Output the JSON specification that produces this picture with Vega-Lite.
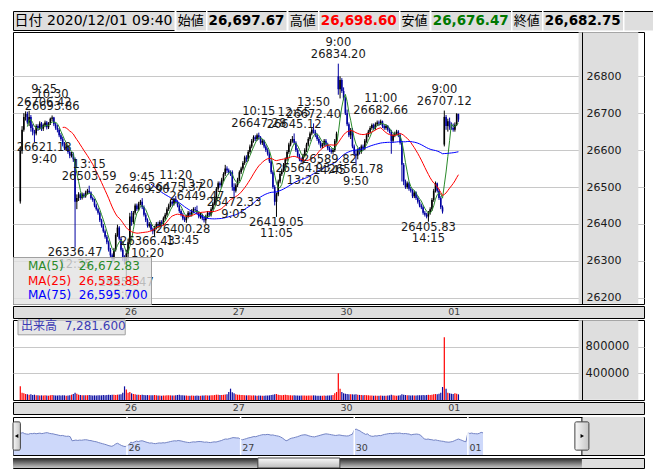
{
"$schema":"https://vega.github.io/schema/vega-lite/v6.json",
"padding":{"left":10,"top":10,"right":12,"bottom":11},
"background":"white",
"spacing":0,
"bounds":"full",
"config":{"view":{"stroke":null}},
"datasets":{
"days":[{"i":60,"d":"26"},{"i":120,"d":"27"},{"i":180,"d":"30"},{"i":240,"d":"01"}],
"notes":[
{"i":13.5,"p":26706.42,"t":"9:25","k":"H"},
{"i":18,"p":26693.86,"t":"10:30","k":"H"},
{"i":13.5,"p":26621.18,"t":"9:40","k":"L"},
{"i":39,"p":26503.59,"t":"13:15","k":"H"},
{"i":31,"p":26336.47,"t":"12:35","k":"L"},
{"i":60,"p":26255.47,"t":"9:00","k":"L"},
{"i":69,"p":26469.90,"t":"9:45","k":"H"},
{"i":88,"p":26475.37,"t":"11:20","k":"H"},
{"i":100,"p":26449.47,"t":"13:20","k":"H"},
{"i":72,"p":26366.43,"t":"10:20","k":"L"},
{"i":92,"p":26400.28,"t":"13:45","k":"L"},
{"i":121,"p":26472.33,"t":"9:05","k":"L"},
{"i":145,"p":26419.05,"t":"11:05","k":"L"},
{"i":135,"p":26647.28,"t":"10:15","k":"H"},
{"i":155,"p":26645.12,"t":"12:55","k":"H"},
{"i":166,"p":26672.40,"t":"13:50","k":"H"},
{"i":160,"p":26564.93,"t":"13:20","k":"L"},
{"i":175,"p":26589.82,"t":"14:45","k":"L"},
{"i":180,"p":26834.20,"t":"9:00","k":"H"},
{"i":190,"p":26561.78,"t":"9:50","k":"L"},
{"i":204,"p":26682.66,"t":"11:00","k":"H"},
{"i":231,"p":26405.83,"t":"14:15","k":"L"},
{"i":240,"p":26707.12,"t":"9:00","k":"H"}
],
"bars":[
{"i":0,"o":26461,"h":26610,"l":26455,"c":26600,"v":205000},
{"i":1,"o":26600,"h":26665,"l":26590,"c":26655,"v":110000},
{"i":2,"o":26655,"h":26700,"l":26650,"c":26690,"v":100000},
{"i":3,"o":26690,"h":26705,"l":26680,"c":26698,"v":90000},
{"i":4,"o":26698,"h":26704,"l":26670,"c":26675,"v":85000},
{"i":5,"o":26675,"h":26706.42,"l":26665,"c":26690,"v":80000},
{"i":6,"o":26690,"h":26695,"l":26650,"c":26660,"v":85000},
{"i":7,"o":26660,"h":26670,"l":26640,"c":26650,"v":75000},
{"i":8,"o":26650,"h":26655,"l":26621.18,"c":26645,"v":80000},
{"i":9,"o":26645,"h":26670,"l":26640,"c":26665,"v":70000},
{"i":10,"o":26665,"h":26670,"l":26652,"c":26660,"v":72000},
{"i":11,"o":26660,"h":26678,"l":26655,"c":26672,"v":68000},
{"i":12,"o":26672,"h":26676,"l":26652,"c":26658,"v":70000},
{"i":13,"o":26658,"h":26672,"l":26652,"c":26668,"v":66000},
{"i":14,"o":26668,"h":26680,"l":26662,"c":26675,"v":70000},
{"i":15,"o":26675,"h":26679,"l":26656,"c":26662,"v":68000},
{"i":16,"o":26662,"h":26676,"l":26657,"c":26672,"v":65000},
{"i":17,"o":26672,"h":26688,"l":26668,"c":26685,"v":72000},
{"i":18,"o":26685,"h":26693.86,"l":26678,"c":26688,"v":75000},
{"i":19,"o":26688,"h":26690,"l":26665,"c":26670,"v":70000},
{"i":20,"o":26670,"h":26675,"l":26655,"c":26660,"v":68000},
{"i":21,"o":26660,"h":26668,"l":26648,"c":26655,"v":66000},
{"i":22,"o":26655,"h":26660,"l":26635,"c":26640,"v":70000},
{"i":23,"o":26640,"h":26646,"l":26625,"c":26630,"v":68000},
{"i":24,"o":26630,"h":26636,"l":26610,"c":26615,"v":72000},
{"i":25,"o":26615,"h":26622,"l":26600,"c":26605,"v":70000},
{"i":26,"o":26605,"h":26616,"l":26598,"c":26610,"v":65000},
{"i":27,"o":26610,"h":26614,"l":26590,"c":26595,"v":68000},
{"i":28,"o":26595,"h":26600,"l":26578,"c":26585,"v":70000},
{"i":29,"o":26585,"h":26595,"l":26580,"c":26590,"v":80000},
{"i":30,"o":26590,"h":26594,"l":26568,"c":26575,"v":90000},
{"i":31,"o":26575,"h":26580,"l":26336.47,"c":26460,"v":110000},
{"i":32,"o":26460,"h":26480,"l":26440,"c":26470,"v":95000},
{"i":33,"o":26470,"h":26486,"l":26462,"c":26480,"v":80000},
{"i":34,"o":26480,"h":26484,"l":26465,"c":26470,"v":75000},
{"i":35,"o":26470,"h":26485,"l":26466,"c":26480,"v":72000},
{"i":36,"o":26480,"h":26484,"l":26470,"c":26475,"v":70000},
{"i":37,"o":26475,"h":26490,"l":26471,"c":26485,"v":70000},
{"i":38,"o":26485,"h":26495,"l":26480,"c":26490,"v":72000},
{"i":39,"o":26490,"h":26503.59,"l":26482,"c":26485,"v":75000},
{"i":40,"o":26485,"h":26488,"l":26466,"c":26470,"v":70000},
{"i":41,"o":26470,"h":26474,"l":26460,"c":26465,"v":68000},
{"i":42,"o":26465,"h":26468,"l":26445,"c":26450,"v":70000},
{"i":43,"o":26450,"h":26455,"l":26436,"c":26440,"v":68000},
{"i":44,"o":26440,"h":26444,"l":26425,"c":26430,"v":70000},
{"i":45,"o":26430,"h":26434,"l":26405,"c":26410,"v":72000},
{"i":46,"o":26410,"h":26414,"l":26390,"c":26395,"v":70000},
{"i":47,"o":26395,"h":26400,"l":26376,"c":26380,"v":74000},
{"i":48,"o":26380,"h":26385,"l":26360,"c":26365,"v":72000},
{"i":49,"o":26365,"h":26370,"l":26345,"c":26350,"v":75000},
{"i":50,"o":26350,"h":26355,"l":26325,"c":26330,"v":78000},
{"i":51,"o":26330,"h":26335,"l":26310,"c":26315,"v":76000},
{"i":52,"o":26315,"h":26320,"l":26298,"c":26305,"v":80000},
{"i":53,"o":26305,"h":26335,"l":26300,"c":26330,"v":78000},
{"i":54,"o":26330,"h":26375,"l":26325,"c":26370,"v":76000},
{"i":55,"o":26370,"h":26398,"l":26365,"c":26390,"v":80000},
{"i":56,"o":26390,"h":26394,"l":26355,"c":26360,"v":82000},
{"i":57,"o":26360,"h":26365,"l":26325,"c":26330,"v":85000},
{"i":58,"o":26330,"h":26335,"l":26300,"c":26310,"v":110000},
{"i":59,"o":26310,"h":26315,"l":26290,"c":26296.86,"v":205000},
{"i":60,"o":26297,"h":26330,"l":26255.47,"c":26320,"v":158000},
{"i":61,"o":26320,"h":26360,"l":26300,"c":26350,"v":110000},
{"i":62,"o":26350,"h":26430,"l":26345,"c":26420,"v":120000},
{"i":63,"o":26420,"h":26435,"l":26395,"c":26405,"v":100000},
{"i":64,"o":26405,"h":26435,"l":26400,"c":26430,"v":90000},
{"i":65,"o":26430,"h":26455,"l":26425,"c":26450,"v":85000},
{"i":66,"o":26450,"h":26455,"l":26435,"c":26440,"v":80000},
{"i":67,"o":26440,"h":26460,"l":26436,"c":26455,"v":78000},
{"i":68,"o":26455,"h":26465,"l":26450,"c":26460,"v":75000},
{"i":69,"o":26460,"h":26469.90,"l":26440,"c":26445,"v":78000},
{"i":70,"o":26445,"h":26450,"l":26420,"c":26425,"v":75000},
{"i":71,"o":26425,"h":26430,"l":26405,"c":26410,"v":72000},
{"i":72,"o":26410,"h":26415,"l":26390,"c":26395,"v":74000},
{"i":73,"o":26395,"h":26405,"l":26390,"c":26400,"v":70000},
{"i":74,"o":26400,"h":26405,"l":26380,"c":26385,"v":72000},
{"i":75,"o":26385,"h":26390,"l":26372,"c":26380,"v":70000},
{"i":76,"o":26380,"h":26395,"l":26366.43,"c":26390,"v":75000},
{"i":77,"o":26390,"h":26405,"l":26385,"c":26400,"v":70000},
{"i":78,"o":26400,"h":26406,"l":26388,"c":26395,"v":68000},
{"i":79,"o":26395,"h":26410,"l":26390,"c":26405,"v":66000},
{"i":80,"o":26405,"h":26410,"l":26395,"c":26400,"v":65000},
{"i":81,"o":26400,"h":26420,"l":26396,"c":26415,"v":68000},
{"i":82,"o":26415,"h":26430,"l":26410,"c":26425,"v":66000},
{"i":83,"o":26425,"h":26445,"l":26420,"c":26440,"v":70000},
{"i":84,"o":26440,"h":26455,"l":26435,"c":26450,"v":72000},
{"i":85,"o":26450,"h":26465,"l":26445,"c":26460,"v":70000},
{"i":86,"o":26460,"h":26464,"l":26448,"c":26455,"v":66000},
{"i":87,"o":26455,"h":26470,"l":26450,"c":26468,"v":68000},
{"i":88,"o":26468,"h":26475.37,"l":26455,"c":26460,"v":70000},
{"i":89,"o":26460,"h":26464,"l":26445,"c":26450,"v":75000},
{"i":90,"o":26450,"h":26455,"l":26430,"c":26435,"v":80000},
{"i":91,"o":26435,"h":26440,"l":26420,"c":26425,"v":72000},
{"i":92,"o":26425,"h":26430,"l":26410,"c":26415,"v":70000},
{"i":93,"o":26415,"h":26420,"l":26405,"c":26410,"v":68000},
{"i":94,"o":26410,"h":26425,"l":26403,"c":26420,"v":66000},
{"i":95,"o":26420,"h":26435,"l":26415,"c":26430,"v":65000},
{"i":96,"o":26430,"h":26434,"l":26420,"c":26425,"v":64000},
{"i":97,"o":26425,"h":26440,"l":26420,"c":26435,"v":66000},
{"i":98,"o":26435,"h":26445,"l":26430,"c":26440,"v":65000},
{"i":99,"o":26440,"h":26446,"l":26432,"c":26438,"v":64000},
{"i":100,"o":26438,"h":26449.47,"l":26426,"c":26430,"v":66000},
{"i":101,"o":26430,"h":26434,"l":26415,"c":26420,"v":65000},
{"i":102,"o":26420,"h":26430,"l":26414,"c":26425,"v":64000},
{"i":103,"o":26425,"h":26428,"l":26410,"c":26415,"v":66000},
{"i":104,"o":26415,"h":26420,"l":26404,"c":26410,"v":68000},
{"i":105,"o":26410,"h":26425,"l":26400.28,"c":26420,"v":70000},
{"i":106,"o":26420,"h":26435,"l":26415,"c":26430,"v":68000},
{"i":107,"o":26430,"h":26434,"l":26420,"c":26425,"v":66000},
{"i":108,"o":26425,"h":26445,"l":26420,"c":26440,"v":70000},
{"i":109,"o":26440,"h":26460,"l":26436,"c":26455,"v":72000},
{"i":110,"o":26455,"h":26475,"l":26450,"c":26470,"v":75000},
{"i":111,"o":26470,"h":26500,"l":26465,"c":26495,"v":80000},
{"i":112,"o":26495,"h":26515,"l":26490,"c":26510,"v":78000},
{"i":113,"o":26510,"h":26515,"l":26498,"c":26505,"v":75000},
{"i":114,"o":26505,"h":26525,"l":26500,"c":26520,"v":76000},
{"i":115,"o":26520,"h":26540,"l":26515,"c":26535,"v":78000},
{"i":116,"o":26535,"h":26560,"l":26530,"c":26550,"v":82000},
{"i":117,"o":26550,"h":26556,"l":26538,"c":26545,"v":85000},
{"i":118,"o":26545,"h":26550,"l":26534,"c":26540,"v":120000},
{"i":119,"o":26540,"h":26545,"l":26530,"c":26537.31,"v":170000},
{"i":120,"o":26540,"h":26545,"l":26490,"c":26500,"v":115000},
{"i":121,"o":26500,"h":26510,"l":26472.33,"c":26490,"v":100000},
{"i":122,"o":26490,"h":26510,"l":26485,"c":26505,"v":85000},
{"i":123,"o":26505,"h":26525,"l":26500,"c":26520,"v":80000},
{"i":124,"o":26520,"h":26545,"l":26515,"c":26540,"v":78000},
{"i":125,"o":26540,"h":26555,"l":26535,"c":26550,"v":75000},
{"i":126,"o":26550,"h":26570,"l":26545,"c":26565,"v":74000},
{"i":127,"o":26565,"h":26585,"l":26560,"c":26580,"v":72000},
{"i":128,"o":26580,"h":26586,"l":26568,"c":26575,"v":70000},
{"i":129,"o":26575,"h":26600,"l":26570,"c":26595,"v":72000},
{"i":130,"o":26595,"h":26615,"l":26590,"c":26610,"v":70000},
{"i":131,"o":26610,"h":26630,"l":26605,"c":26625,"v":68000},
{"i":132,"o":26625,"h":26640,"l":26620,"c":26635,"v":70000},
{"i":133,"o":26635,"h":26640,"l":26624,"c":26630,"v":66000},
{"i":134,"o":26630,"h":26645,"l":26625,"c":26640,"v":65000},
{"i":135,"o":26640,"h":26647.28,"l":26628,"c":26635,"v":68000},
{"i":136,"o":26635,"h":26638,"l":26615,"c":26620,"v":66000},
{"i":137,"o":26620,"h":26630,"l":26614,"c":26625,"v":64000},
{"i":138,"o":26625,"h":26628,"l":26605,"c":26610,"v":65000},
{"i":139,"o":26610,"h":26615,"l":26595,"c":26600,"v":66000},
{"i":140,"o":26600,"h":26605,"l":26585,"c":26590,"v":68000},
{"i":141,"o":26590,"h":26595,"l":26565,"c":26570,"v":70000},
{"i":142,"o":26570,"h":26575,"l":26535,"c":26540,"v":75000},
{"i":143,"o":26540,"h":26545,"l":26495,"c":26500,"v":80000},
{"i":144,"o":26500,"h":26505,"l":26450,"c":26460,"v":85000},
{"i":145,"o":26460,"h":26485,"l":26419.05,"c":26480,"v":90000},
{"i":146,"o":26480,"h":26520,"l":26475,"c":26515,"v":80000},
{"i":147,"o":26515,"h":26540,"l":26510,"c":26535,"v":75000},
{"i":148,"o":26535,"h":26550,"l":26530,"c":26545,"v":72000},
{"i":149,"o":26545,"h":26565,"l":26540,"c":26560,"v":75000},
{"i":150,"o":26560,"h":26580,"l":26555,"c":26575,"v":80000},
{"i":151,"o":26575,"h":26600,"l":26570,"c":26595,"v":74000},
{"i":152,"o":26595,"h":26620,"l":26590,"c":26615,"v":72000},
{"i":153,"o":26615,"h":26630,"l":26610,"c":26625,"v":70000},
{"i":154,"o":26625,"h":26638,"l":26620,"c":26630,"v":68000},
{"i":155,"o":26630,"h":26645.12,"l":26615,"c":26620,"v":70000},
{"i":156,"o":26620,"h":26624,"l":26595,"c":26600,"v":68000},
{"i":157,"o":26600,"h":26605,"l":26580,"c":26585,"v":66000},
{"i":158,"o":26585,"h":26590,"l":26570,"c":26575,"v":65000},
{"i":159,"o":26575,"h":26580,"l":26566,"c":26570,"v":66000},
{"i":160,"o":26570,"h":26590,"l":26564.93,"c":26585,"v":68000},
{"i":161,"o":26585,"h":26605,"l":26580,"c":26600,"v":66000},
{"i":162,"o":26600,"h":26620,"l":26595,"c":26615,"v":65000},
{"i":163,"o":26615,"h":26635,"l":26610,"c":26630,"v":66000},
{"i":164,"o":26630,"h":26650,"l":26625,"c":26645,"v":68000},
{"i":165,"o":26645,"h":26660,"l":26640,"c":26655,"v":66000},
{"i":166,"o":26655,"h":26672.40,"l":26645,"c":26650,"v":70000},
{"i":167,"o":26650,"h":26655,"l":26635,"c":26640,"v":66000},
{"i":168,"o":26640,"h":26645,"l":26625,"c":26630,"v":65000},
{"i":169,"o":26630,"h":26635,"l":26615,"c":26620,"v":64000},
{"i":170,"o":26620,"h":26625,"l":26605,"c":26610,"v":65000},
{"i":171,"o":26610,"h":26620,"l":26605,"c":26615,"v":64000},
{"i":172,"o":26615,"h":26630,"l":26610,"c":26625,"v":66000},
{"i":173,"o":26625,"h":26630,"l":26610,"c":26615,"v":65000},
{"i":174,"o":26615,"h":26620,"l":26600,"c":26605,"v":66000},
{"i":175,"o":26605,"h":26610,"l":26595,"c":26600,"v":68000},
{"i":176,"o":26600,"h":26605,"l":26590,"c":26595,"v":70000},
{"i":177,"o":26595,"h":26605,"l":26589.82,"c":26600,"v":75000},
{"i":178,"o":26600,"h":26630,"l":26595,"c":26625,"v":100000},
{"i":179,"o":26625,"h":26650,"l":26620,"c":26644.71,"v":120000},
{"i":180,"o":26800,"h":26834.20,"l":26750,"c":26765,"v":400000},
{"i":181,"o":26765,"h":26800,"l":26740,"c":26790,"v":170000},
{"i":182,"o":26790,"h":26795,"l":26755,"c":26760,"v":120000},
{"i":183,"o":26760,"h":26770,"l":26735,"c":26740,"v":100000},
{"i":184,"o":26740,"h":26745,"l":26695,"c":26700,"v":95000},
{"i":185,"o":26700,"h":26710,"l":26665,"c":26670,"v":90000},
{"i":186,"o":26670,"h":26675,"l":26635,"c":26640,"v":88000},
{"i":187,"o":26640,"h":26660,"l":26630,"c":26655,"v":85000},
{"i":188,"o":26655,"h":26660,"l":26605,"c":26610,"v":85000},
{"i":189,"o":26610,"h":26615,"l":26585,"c":26590,"v":82000},
{"i":190,"o":26590,"h":26600,"l":26561.78,"c":26585,"v":85000},
{"i":191,"o":26585,"h":26605,"l":26575,"c":26600,"v":80000},
{"i":192,"o":26600,"h":26608,"l":26588,"c":26595,"v":76000},
{"i":193,"o":26595,"h":26615,"l":26590,"c":26610,"v":74000},
{"i":194,"o":26610,"h":26615,"l":26598,"c":26605,"v":72000},
{"i":195,"o":26605,"h":26630,"l":26600,"c":26625,"v":74000},
{"i":196,"o":26625,"h":26645,"l":26620,"c":26640,"v":72000},
{"i":197,"o":26640,"h":26655,"l":26635,"c":26650,"v":70000},
{"i":198,"o":26650,"h":26665,"l":26645,"c":26660,"v":68000},
{"i":199,"o":26660,"h":26672,"l":26655,"c":26668,"v":66000},
{"i":200,"o":26668,"h":26672,"l":26655,"c":26660,"v":65000},
{"i":201,"o":26660,"h":26675,"l":26655,"c":26670,"v":66000},
{"i":202,"o":26670,"h":26680,"l":26665,"c":26675,"v":64000},
{"i":203,"o":26675,"h":26680,"l":26665,"c":26672,"v":65000},
{"i":204,"o":26672,"h":26682.66,"l":26668,"c":26678,"v":66000},
{"i":205,"o":26678,"h":26680,"l":26660,"c":26665,"v":64000},
{"i":206,"o":26665,"h":26670,"l":26655,"c":26660,"v":65000},
{"i":207,"o":26660,"h":26670,"l":26655,"c":26665,"v":64000},
{"i":208,"o":26665,"h":26668,"l":26650,"c":26655,"v":66000},
{"i":209,"o":26655,"h":26660,"l":26645,"c":26650,"v":70000},
{"i":210,"o":26650,"h":26655,"l":26590,"c":26625,"v":78000},
{"i":211,"o":26625,"h":26645,"l":26620,"c":26640,"v":70000},
{"i":212,"o":26640,"h":26650,"l":26635,"c":26645,"v":66000},
{"i":213,"o":26645,"h":26655,"l":26640,"c":26650,"v":65000},
{"i":214,"o":26650,"h":26654,"l":26635,"c":26640,"v":66000},
{"i":215,"o":26640,"h":26645,"l":26615,"c":26620,"v":70000},
{"i":216,"o":26620,"h":26625,"l":26515,"c":26560,"v":85000},
{"i":217,"o":26560,"h":26565,"l":26505,"c":26515,"v":80000},
{"i":218,"o":26515,"h":26520,"l":26495,"c":26500,"v":75000},
{"i":219,"o":26500,"h":26515,"l":26495,"c":26510,"v":72000},
{"i":220,"o":26510,"h":26514,"l":26490,"c":26495,"v":70000},
{"i":221,"o":26495,"h":26500,"l":26485,"c":26490,"v":68000},
{"i":222,"o":26490,"h":26494,"l":26470,"c":26475,"v":70000},
{"i":223,"o":26475,"h":26490,"l":26470,"c":26485,"v":66000},
{"i":224,"o":26485,"h":26488,"l":26465,"c":26470,"v":68000},
{"i":225,"o":26470,"h":26475,"l":26455,"c":26460,"v":70000},
{"i":226,"o":26460,"h":26465,"l":26445,"c":26450,"v":72000},
{"i":227,"o":26450,"h":26455,"l":26440,"c":26445,"v":70000},
{"i":228,"o":26445,"h":26450,"l":26425,"c":26430,"v":74000},
{"i":229,"o":26430,"h":26435,"l":26420,"c":26425,"v":72000},
{"i":230,"o":26425,"h":26430,"l":26415,"c":26420,"v":75000},
{"i":231,"o":26420,"h":26435,"l":26405.83,"c":26430,"v":78000},
{"i":232,"o":26430,"h":26445,"l":26425,"c":26440,"v":76000},
{"i":233,"o":26440,"h":26470,"l":26435,"c":26465,"v":80000},
{"i":234,"o":26465,"h":26495,"l":26460,"c":26490,"v":85000},
{"i":235,"o":26490,"h":26515,"l":26485,"c":26510,"v":90000},
{"i":236,"o":26510,"h":26512,"l":26485,"c":26490,"v":88000},
{"i":237,"o":26490,"h":26495,"l":26465,"c":26470,"v":92000},
{"i":238,"o":26470,"h":26475,"l":26440,"c":26445,"v":110000},
{"i":239,"o":26445,"h":26450,"l":26428,"c":26433.62,"v":195000},
{"i":240,"o":26615,"h":26707.12,"l":26610,"c":26690,"v":940000},
{"i":241,"o":26690,"h":26695,"l":26655,"c":26665,"v":170000},
{"i":242,"o":26665,"h":26685,"l":26650,"c":26678,"v":110000},
{"i":243,"o":26678,"h":26688,"l":26655,"c":26662,"v":100000},
{"i":244,"o":26662,"h":26675,"l":26655,"c":26660,"v":95000},
{"i":245,"o":26660,"h":26672,"l":26650,"c":26655,"v":90000},
{"i":246,"o":26655,"h":26675,"l":26650,"c":26668.73,"v":100000},
{"i":247,"o":26668.73,"h":26700,"l":26665,"c":26697.67,"v":95000},
{"i":248,"o":26697.67,"h":26698.60,"l":26676.47,"c":26682.75,"v":85000}
]
},
"vconcat":[
{"hconcat":[
{"width":161,"height":19,"data":{"values":[{"t":"日付 2020/12/01 09:40"}]},"mark":{"type":"text","font":"DejaVu Sans, Noto Sans CJK JP","fontSize":14,"color":"#000"},"encoding":{"text":{"field":"t"}},"view":{"fill":"#dedede","stroke":"#000","strokeDash":[161,19,180,0.001]}},
{"width":29.5,"height":19,"data":{"values":[{"t":"始値"}]},"mark":{"type":"text","font":"Noto Sans CJK JP","fontSize":13,"color":"#000"},"encoding":{"text":{"field":"t"}},"view":{"fill":"#dedede","stroke":"#000","strokeDash":[29.5,67.5]}},
{"width":79,"height":19,"data":{"values":[{"t":"26,697.67"}]},"mark":{"type":"text","font":"DejaVu Sans","fontSize":13.5,"fontWeight":"bold","color":"#000"},"encoding":{"text":{"field":"t"}},"view":{"fill":"#dedede","stroke":"#000","strokeDash":[79,117]}},
{"width":29.5,"height":19,"data":{"values":[{"t":"高値"}]},"mark":{"type":"text","font":"Noto Sans CJK JP","fontSize":13,"color":"#000"},"encoding":{"text":{"field":"t"}},"view":{"fill":"#dedede","stroke":"#000","strokeDash":[29.5,67.5]}},
{"width":79.5,"height":19,"data":{"values":[{"t":"26,698.60"}]},"mark":{"type":"text","font":"DejaVu Sans","fontSize":13.5,"fontWeight":"bold","color":"#ff0000"},"encoding":{"text":{"field":"t"}},"view":{"fill":"#dedede","stroke":"#000","strokeDash":[79.5,117.5]}},
{"width":29,"height":19,"data":{"values":[{"t":"安値"}]},"mark":{"type":"text","font":"Noto Sans CJK JP","fontSize":13,"color":"#000"},"encoding":{"text":{"field":"t"}},"view":{"fill":"#dedede","stroke":"#000","strokeDash":[29,67]}},
{"width":79.5,"height":19,"data":{"values":[{"t":"26,676.47"}]},"mark":{"type":"text","font":"DejaVu Sans","fontSize":13.5,"fontWeight":"bold","color":"#007800"},"encoding":{"text":{"field":"t"}},"view":{"fill":"#dedede","stroke":"#000","strokeDash":[79.5,117.5]}},
{"width":29.5,"height":19,"data":{"values":[{"t":"終値"}]},"mark":{"type":"text","font":"Noto Sans CJK JP","fontSize":13,"color":"#000"},"encoding":{"text":{"field":"t"}},"view":{"fill":"#dedede","stroke":"#000","strokeDash":[29.5,67.5]}},
{"width":79.5,"height":19,"data":{"values":[{"t":"26,682.75"}]},"mark":{"type":"text","font":"DejaVu Sans","fontSize":13.5,"fontWeight":"bold","color":"#000"},"encoding":{"text":{"field":"t"}},"view":{"fill":"#dedede","stroke":"#000","strokeDash":[79.5,117.5]}},
{"width":35,"height":19,"data":{"values":[{"t":""}]},"mark":{"type":"text"},"encoding":{"text":{"field":"t"}},"view":{"fill":"#dedede","stroke":"#000","strokeDash":[54,54]}}
],"spacing":0,"bounds":"full"},
{"width":631,"height":272,
"view":{"fill":"#ffffff","stroke":"#000"},
"resolve":{"axis":{"y":"independent"}},
"layer":[
{"data":{"name":"bars"},"mark":{"type":"rule","strokeWidth":1},
"encoding":{
"x":{"field":"i","type":"quantitative","scale":{"domain":[-1.3,350.2],"nice":false,"zero":false},"axis":{"values":[60,120,180,240],"grid":true,"gridColor":"#c8c8c8","labels":false,"ticks":false,"domain":false,"title":null}},
"y":{"field":"l","type":"quantitative","scale":{"domain":[26183,26920],"nice":false,"zero":false},"axis":{"orient":"left","values":[26200,26300,26400,26500,26600,26700,26800],"grid":true,"gridColor":"#c8c8c8","labels":false,"ticks":false,"domain":false,"title":null,"zindex":0}},
"y2":{"field":"h"},
"color":{"condition":{"test":"datum.c >= datum.o","value":"#000000"},"value":"#0000a0"}}},
{"data":{"values":[{"k":"pane"}]},"mark":{"type":"rect","color":"#dedede","opacity":1,"filled":true},
"encoding":{
"x":{"datum":316,"type":"quantitative","scale":{"domain":[-1.3,350.2],"nice":false,"zero":false},"axis":null},
"x2":{"datum":349.8},
"y":{"datum":26184,"type":"quantitative","scale":{"domain":[26183,26920],"nice":false,"zero":false},"axis":{"orient":"right","offset":-62,"values":[26200,26300,26400,26500,26600,26700,26800],"format":"d","grid":false,"ticks":false,"domain":true,"domainColor":"#000","labelFont":"DejaVu Sans","labelFontSize":11,"labelColor":"#1a1a1a","labelPadding":4,"title":null,"zindex":1}},
"y2":{"datum":26919}}},
{"data":{"name":"bars"},"mark":{"type":"bar","size":1.6},
"encoding":{
"x":{"field":"i","type":"quantitative","scale":{"domain":[-1.3,350.2],"nice":false,"zero":false},"axis":null},
"y":{"field":"o","type":"quantitative","scale":{"domain":[26183,26920],"nice":false,"zero":false},"axis":null},
"y2":{"field":"c"},
"color":{"condition":{"test":"datum.c >= datum.o","value":"#000000"},"value":"#0000a0"}}},
{"data":{"name":"bars"},
"transform":[
{"window":[{"op":"mean","field":"c","as":"m5"}],"frame":[-4,0],"sort":[{"field":"i"}]},
{"window":[{"op":"mean","field":"c","as":"m25"}],"frame":[-24,0],"sort":[{"field":"i"}]},
{"window":[{"op":"mean","field":"c","as":"m75"}],"frame":[-74,0],"sort":[{"field":"i"}]},
{"fold":["m5","m25","m75"],"as":["ma","mv"]},
{"filter":"(datum.ma == 'm5' && datum.i >= 4) || (datum.ma == 'm25' && datum.i >= 24) || (datum.ma == 'm75' && datum.i >= 74)"}
],
"mark":{"type":"line","strokeWidth":1},
"encoding":{
"x":{"field":"i","type":"quantitative","scale":{"domain":[-1.3,350.2],"nice":false,"zero":false},"axis":null},
"y":{"field":"mv","type":"quantitative","scale":{"domain":[26183,26920],"nice":false,"zero":false},"axis":null},
"color":{"field":"ma","type":"nominal","scale":{"domain":["m5","m25","m75"],"range":["#2a8a2a","#ff0000","#0000ff"]},
"legend":{"orient":"none","legendX":0,"legendY":246,"title":null,"symbolSize":0,"symbolStrokeWidth":0,"symbolOpacity":0,"labelOffset":0,"labelFont":"DejaVu Sans","labelFontSize":12,"labelLimit":220,
"labelExpr":"datum.value == 'm5' ? 'MA(5)\u00a0\u00a0\u00a0\u00a026,672.83' : datum.value == 'm25' ? 'MA(25)\u00a0\u00a026,535.85' : 'MA(75)\u00a0\u00a026,595.700'",
"fillColor":"rgba(226,226,226,0.8)","strokeColor":"#a0a0a0","padding":3,"rowPadding":2.5,
"encode":{"labels":{"update":{"fill":{"scale":"color","field":"value"}}}}}}}},
{"data":{"name":"notes"},"transform":[{"filter":"datum.k == 'H'"}],
"mark":{"type":"text","font":"DejaVu Sans","fontSize":11.5,"color":"#1a1a1a","baseline":"middle","dy":-8.2},
"encoding":{"x":{"field":"i","type":"quantitative","scale":{"domain":[-1.3,350.2],"nice":false,"zero":false},"axis":null},
"y":{"field":"p","type":"quantitative","scale":{"domain":[26183,26920],"nice":false,"zero":false},"axis":null},
"text":{"field":"p","type":"quantitative","format":".2f"}}},
{"data":{"name":"notes"},"transform":[{"filter":"datum.k == 'H'"}],
"mark":{"type":"text","font":"DejaVu Sans","fontSize":11.5,"color":"#1a1a1a","baseline":"middle","dy":-20.5},
"encoding":{"x":{"field":"i","type":"quantitative","scale":{"domain":[-1.3,350.2],"nice":false,"zero":false},"axis":null},
"y":{"field":"p","type":"quantitative","scale":{"domain":[26183,26920],"nice":false,"zero":false},"axis":null},
"text":{"field":"t"}}},
{"data":{"name":"notes"},"transform":[{"filter":"datum.k == 'L'"}],
"mark":{"type":"text","font":"DejaVu Sans","fontSize":11.5,"color":"#1a1a1a","baseline":"middle","dy":6},
"encoding":{"x":{"field":"i","type":"quantitative","scale":{"domain":[-1.3,350.2],"nice":false,"zero":false},"axis":null},
"y":{"field":"p","type":"quantitative","scale":{"domain":[26183,26920],"nice":false,"zero":false},"axis":null},
"text":{"field":"p","type":"quantitative","format":".2f"}}},
{"data":{"name":"notes"},"transform":[{"filter":"datum.k == 'L'"}],
"mark":{"type":"text","font":"DejaVu Sans","fontSize":11.5,"color":"#1a1a1a","baseline":"middle","dy":17.5},
"encoding":{"x":{"field":"i","type":"quantitative","scale":{"domain":[-1.3,350.2],"nice":false,"zero":false},"axis":null},
"y":{"field":"p","type":"quantitative","scale":{"domain":[26183,26920],"nice":false,"zero":false},"axis":null},
"text":{"field":"t"}}}
]},
{"width":631,"height":12,"view":{"fill":"#dedede","stroke":"#000"},
"data":{"name":"days"},
"mark":{"type":"text","align":"left","dx":2,"font":"DejaVu Sans","fontSize":9.5,"color":"#404040","baseline":"middle"},
"encoding":{"x":{"field":"i","type":"quantitative","scale":{"domain":[-1.3,350.2],"nice":false,"zero":false},"axis":null},"text":{"field":"d"}}},
{"width":631,"height":80,
"view":{"fill":"#ffffff","stroke":"#000"},
"resolve":{"axis":{"y":"independent"}},
"layer":[
{"data":{"name":"bars"},
"transform":[{"window":[{"op":"lag","field":"c","as":"pc"}],"sort":[{"field":"i"}]}],
"mark":{"type":"bar","size":1.2},
"encoding":{
"x":{"field":"i","type":"quantitative","scale":{"domain":[-1.3,350.2],"nice":false,"zero":false},"axis":{"values":[60,120,180,240],"grid":true,"gridColor":"#c8c8c8","labels":false,"ticks":false,"domain":false,"title":null}},
"y":{"field":"v","type":"quantitative","scale":{"domain":[0,1200000],"nice":false},"axis":{"orient":"left","values":[400000,800000],"grid":true,"gridColor":"#c8c8c8","labels":false,"ticks":false,"domain":false,"title":null,"zindex":0}},
"color":{"condition":{"test":"datum.c >= datum.pc","value":"#ff0000"},"value":"#0c0ca0"}}},
{"data":{"values":[{"k":"pane"}]},"mark":{"type":"rect","color":"#dedede","opacity":1,"filled":true},
"encoding":{
"x":{"datum":316,"type":"quantitative","scale":{"domain":[-1.3,350.2],"nice":false,"zero":false},"axis":null},
"x2":{"datum":349.8},
"y":{"datum":2000,"type":"quantitative","scale":{"domain":[0,1200000],"nice":false},"axis":{"orient":"right","offset":-62,"values":[400000,800000],"format":"d","grid":false,"ticks":false,"domain":true,"domainColor":"#000","labelFont":"DejaVu Sans","labelFontSize":11.5,"labelColor":"#1a1a1a","labelPadding":3,"title":null,"zindex":1}},
"y2":{"datum":1198000}}},
{"data":{"values":[{}]},"mark":{"type":"rect","fill":"#e6e6e6","stroke":"#a0a0a0","strokeWidth":1},
"encoding":{
"x":{"datum":-1.3,"type":"quantitative","scale":{"domain":[-1.3,350.2],"nice":false,"zero":false},"axis":null},
"x2":{"datum":59.4},
"y":{"datum":1200000,"type":"quantitative","scale":{"domain":[0,1200000],"nice":false},"axis":null},
"y2":{"datum":978000}}},
{"data":{"values":[{"t":"出来高\u00a0\u00a07,281.600"}]},"mark":{"type":"text","align":"left","dx":3,"baseline":"middle","font":"DejaVu Sans, Noto Sans CJK JP","fontSize":12,"color":"#3c3cb4"},
"encoding":{
"x":{"datum":-1.3,"type":"quantitative","scale":{"domain":[-1.3,350.2],"nice":false,"zero":false},"axis":null},
"y":{"datum":1104000,"type":"quantitative","scale":{"domain":[0,1200000],"nice":false},"axis":null},
"text":{"field":"t"}}}
]},
{"width":631,"height":12,"view":{"fill":"#dedede","stroke":"#000"},
"data":{"name":"days"},
"mark":{"type":"text","align":"left","dx":2,"font":"DejaVu Sans","fontSize":9.5,"color":"#404040","baseline":"middle"},
"encoding":{"x":{"field":"i","type":"quantitative","scale":{"domain":[-1.3,350.2],"nice":false,"zero":false},"axis":null},"text":{"field":"d"}}},
{"width":631,"height":38,
"view":{"fill":"#ffffff","stroke":"#000"},
"layer":[
{"data":{"name":"bars"},"mark":{"type":"area","fill":"#b8c8f8","line":{"stroke":"#7484c4","strokeWidth":1}},
"encoding":{
"x":{"field":"i","type":"quantitative","scale":{"domain":[-0.2,333],"nice":false,"zero":false},"axis":null},
"y":{"field":"c","type":"quantitative","scale":{"domain":[26060,27130],"nice":false,"zero":false},"axis":null},
"y2":{"datum":26060}}},
{"data":{"values":[{"k":"pane"}]},"mark":{"type":"rect","color":"#dedede","opacity":1,"filled":true},
"encoding":{
"x":{"datum":300.4,"type":"quantitative","scale":{"domain":[-0.2,333],"nice":false,"zero":false},"axis":null},
"x2":{"datum":332.9},
"y":{"datum":26062,"type":"quantitative","scale":{"domain":[26060,27130],"nice":false,"zero":false},"axis":null},
"y2":{"datum":27128}}},
{"data":{"name":"days"},"mark":{"type":"rule","color":"#ffffff","strokeWidth":1.5},
"encoding":{"x":{"field":"i","type":"quantitative","scale":{"domain":[-0.2,333],"nice":false,"zero":false},"axis":null}}},
{"data":{"name":"days"},"mark":{"type":"text","align":"left","dx":1.5,"dy":-2,"baseline":"bottom","font":"DejaVu Sans","fontSize":9.5,"color":"#404040"},
"encoding":{
"x":{"field":"i","type":"quantitative","scale":{"domain":[-0.2,333],"nice":false,"zero":false},"axis":null},
"y":{"datum":26060,"type":"quantitative","scale":{"domain":[26060,27130],"nice":false,"zero":false},"axis":null},
"text":{"field":"d"}}},
{"data":{"values":[{}]},"mark":{"type":"rule","color":"#000","strokeWidth":1},
"encoding":{"x":{"datum":300.2,"type":"quantitative","scale":{"domain":[-0.2,333],"nice":false,"zero":false},"axis":null}}},
{"data":{"values":[{}]},"mark":{"type":"rect","stroke":"#404040","strokeWidth":1,"cornerRadius":1.5,"fill":{"gradient":"linear","x1":0,"y1":0,"x2":1,"y2":0,"stops":[{"offset":0,"color":"#f8f8f8"},{"offset":1,"color":"#c4c4c4"}]}},
"encoding":{
"x":{"datum":-0.2,"type":"quantitative","scale":{"domain":[-0.2,333],"nice":false,"zero":false},"axis":null},
"x2":{"datum":3.7},
"y":{"datum":26197,"type":"quantitative","scale":{"domain":[26060,27130],"nice":false,"zero":false},"axis":null},
"y2":{"datum":26993}}},
{"data":{"values":[{}]},"mark":{"type":"rect","stroke":"#404040","strokeWidth":1,"cornerRadius":1.5,"fill":{"gradient":"linear","x1":0,"y1":0,"x2":1,"y2":0,"stops":[{"offset":0,"color":"#f8f8f8"},{"offset":1,"color":"#c4c4c4"}]}},
"encoding":{
"x":{"datum":296.5,"type":"quantitative","scale":{"domain":[-0.2,333],"nice":false,"zero":false},"axis":null},
"x2":{"datum":303.9},
"y":{"datum":26197,"type":"quantitative","scale":{"domain":[26060,27130],"nice":false,"zero":false},"axis":null},
"y2":{"datum":26993}}},
{"data":{"values":[{}]},"mark":{"type":"point","shape":"triangle-left","filled":true,"size":16,"color":"#000","opacity":1},
"encoding":{
"x":{"datum":1.7,"type":"quantitative","scale":{"domain":[-0.2,333],"nice":false,"zero":false},"axis":null},
"y":{"datum":26595,"type":"quantitative","scale":{"domain":[26060,27130],"nice":false,"zero":false},"axis":null}}},
{"data":{"values":[{}]},"mark":{"type":"point","shape":"triangle-right","filled":true,"size":16,"color":"#000","opacity":1},
"encoding":{
"x":{"datum":300.4,"type":"quantitative","scale":{"domain":[-0.2,333],"nice":false,"zero":false},"axis":null},
"y":{"datum":26595,"type":"quantitative","scale":{"domain":[26060,27130],"nice":false,"zero":false},"axis":null}}}
]},
{"width":631,"height":10,
"view":{"fill":"#dedede","stroke":"#000"},
"data":{"values":[{}]},
"layer":[
{"mark":{"type":"rect","fill":{"gradient":"linear","x1":0,"y1":0,"x2":0,"y2":1,"stops":[{"offset":0,"color":"#262626"},{"offset":1,"color":"#c8c8c8"}]}},
"encoding":{
"x":{"datum":-0.2,"type":"quantitative","scale":{"domain":[-0.2,333],"nice":false,"zero":false},"axis":null},
"x2":{"datum":300.2},
"y":{"datum":0,"type":"quantitative","scale":{"domain":[0,1],"nice":false},"axis":null},
"y2":{"datum":1}}},
{"mark":{"type":"rect","stroke":"#404040","strokeWidth":1,"fill":{"gradient":"linear","x1":0,"y1":0,"x2":0,"y2":1,"stops":[{"offset":0,"color":"#fafafa"},{"offset":1,"color":"#bcbcbc"}]}},
"encoding":{
"x":{"datum":129.1,"type":"quantitative","scale":{"domain":[-0.2,333],"nice":false,"zero":false},"axis":null},
"x2":{"datum":172.4},
"y":{"datum":0,"type":"quantitative","scale":{"domain":[0,1],"nice":false},"axis":null},
"y2":{"datum":1}}}
]}
]
}
